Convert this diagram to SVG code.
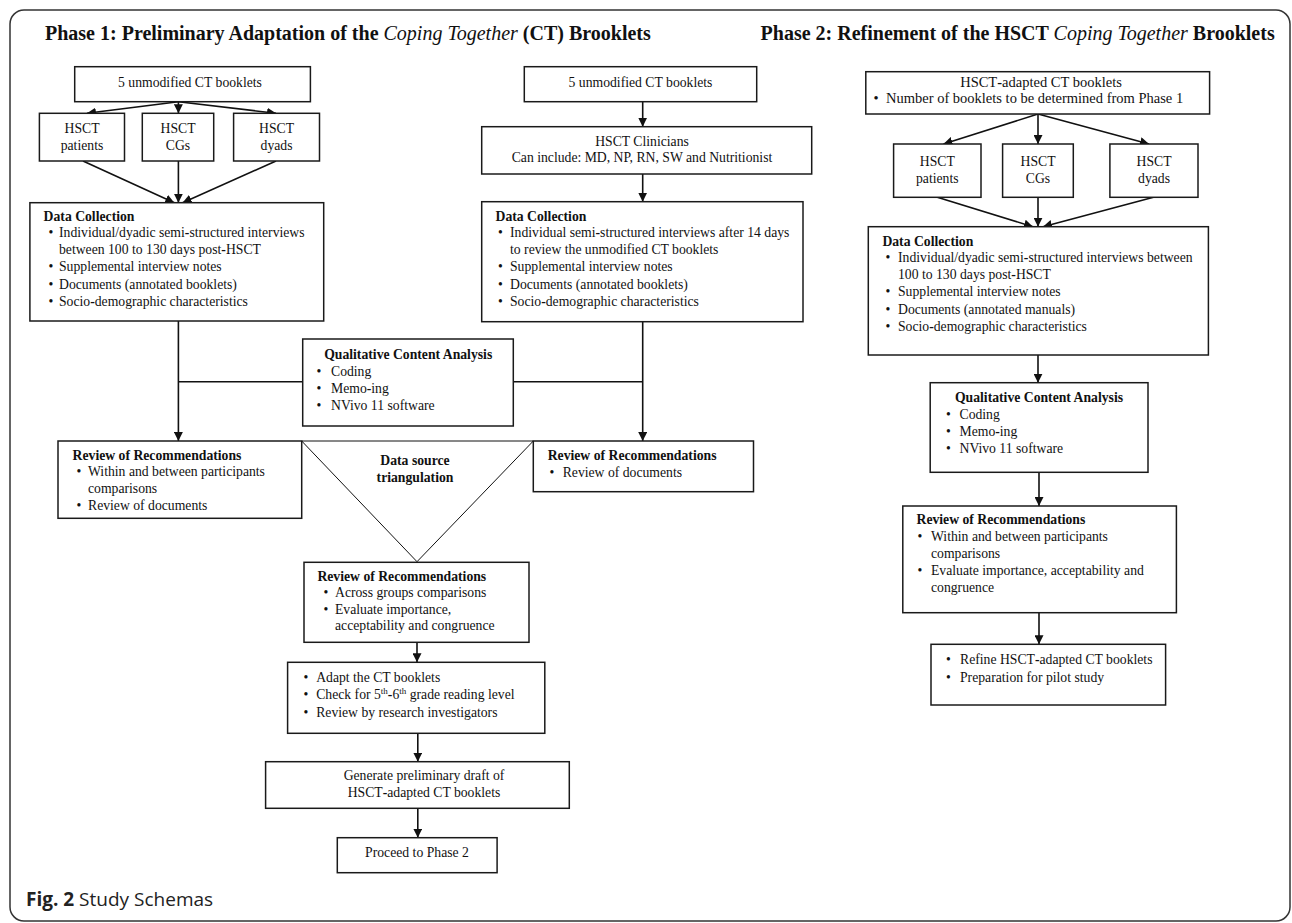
<svg xmlns="http://www.w3.org/2000/svg" width="1292" height="923" viewBox="0 0 1292 923">
<defs>
<style>
text{font-family:"Liberation Serif","Times New Roman",serif;font-size:13.7px;fill:#111}
.b{font-weight:bold}
.c{text-anchor:middle}
.i{font-style:italic;font-weight:normal}
.ttl{font-size:20px;font-weight:bold}
.cap{font-family:"Open Sans","Noto Sans",sans-serif;font-size:19px;fill:#222}
.box{fill:#fff;stroke:#1a1a1a;stroke-width:1.5}
.ln{fill:none;stroke:#111;stroke-width:1.6}
.tri{fill:none;stroke:#111;stroke-width:1}
</style>
<marker id="ah" viewBox="0 0 10 10" refX="10" refY="5" markerWidth="9" markerHeight="9" markerUnits="userSpaceOnUse" orient="auto">
<path d="M0,0 L10,5 L0,10 z" fill="#111"/>
</marker>
</defs>
<rect width="1292" height="923" fill="#fff"/>
<rect x="10" y="10" width="1280" height="911" rx="14" fill="none" stroke="#333" stroke-width="1.5"/>

<text x="45" y="40" class="ttl">Phase 1: Preliminary Adaptation of the <tspan class="i">Coping Together</tspan> (CT) Brooklets</text>
<text x="760.6" y="40" class="ttl">Phase 2: Refinement of the HSCT <tspan class="i">Coping Together</tspan> Brooklets</text>

<g id="connectors">
<line class="ln" x1="178.4" y1="101.7" x2="87" y2="113.3" marker-end="url(#ah)"/>
<line class="ln" x1="178.4" y1="101.7" x2="178.4" y2="113.3" marker-end="url(#ah)"/>
<line class="ln" x1="178.4" y1="101.7" x2="276" y2="113.3" marker-end="url(#ah)"/>
<line class="ln" x1="83" y1="161" x2="174.3" y2="202.7" marker-end="url(#ah)"/>
<line class="ln" x1="178.4" y1="161" x2="178.4" y2="202.7" marker-end="url(#ah)"/>
<line class="ln" x1="276" y1="161" x2="182.6" y2="202.7" marker-end="url(#ah)"/>
<line class="ln" x1="178.4" y1="321" x2="178.4" y2="441" marker-end="url(#ah)"/>
<line class="ln" x1="178.4" y1="381.7" x2="302.7" y2="381.7"/>
<line class="ln" x1="513.3" y1="381.7" x2="642.7" y2="381.7"/>
<line class="ln" x1="642.7" y1="101.7" x2="642.7" y2="126.7" marker-end="url(#ah)"/>
<line class="ln" x1="642.7" y1="174" x2="642.7" y2="201.7" marker-end="url(#ah)"/>
<line class="ln" x1="642.7" y1="321.7" x2="642.7" y2="441" marker-end="url(#ah)"/>
<line class="ln" x1="417" y1="642.3" x2="417" y2="662.3" marker-end="url(#ah)"/>
<line class="ln" x1="417.8" y1="733.3" x2="417.8" y2="761.7" marker-end="url(#ah)"/>
<line class="ln" x1="417.8" y1="808.3" x2="417.8" y2="837.7" marker-end="url(#ah)"/>
<line class="ln" x1="1038" y1="114" x2="943.5" y2="144" marker-end="url(#ah)"/>
<line class="ln" x1="1038" y1="114" x2="1038" y2="144" marker-end="url(#ah)"/>
<line class="ln" x1="1038" y1="114" x2="1149" y2="144" marker-end="url(#ah)"/>
<line class="ln" x1="937.3" y1="197.3" x2="1033" y2="226.7" marker-end="url(#ah)"/>
<line class="ln" x1="1038" y1="197.3" x2="1038" y2="226.7" marker-end="url(#ah)"/>
<line class="ln" x1="1153.5" y1="197.3" x2="1043" y2="226.7" marker-end="url(#ah)"/>
<line class="ln" x1="1038" y1="355" x2="1038" y2="382.7" marker-end="url(#ah)"/>
<line class="ln" x1="1039" y1="472.3" x2="1039" y2="506" marker-end="url(#ah)"/>
<line class="ln" x1="1039" y1="612.7" x2="1039" y2="644.3" marker-end="url(#ah)"/>
</g>

<g id="p1-top-left">
<rect class="box" x="74.7" y="66.7" width="235.7" height="35"/>
<text x="190" y="87" class="c">5 unmodified CT booklets</text>
</g>
<g id="p1-patients">
<rect class="box" x="39.4" y="113.3" width="85.1" height="47.7"/>
<text x="82" y="133.2" class="c">HSCT</text>
<text x="82" y="150.2" class="c">patients</text>
</g>
<g id="p1-cgs">
<rect class="box" x="142.3" y="113.3" width="71.4" height="47.7"/>
<text x="178" y="133.2" class="c">HSCT</text>
<text x="178" y="150.2" class="c">CGs</text>
</g>
<g id="p1-dyads">
<rect class="box" x="233.6" y="113.3" width="85.9" height="47.7"/>
<text x="276.5" y="133.2" class="c">HSCT</text>
<text x="276.5" y="150.2" class="c">dyads</text>
</g>
<g id="p1-dc-left">
<rect class="box" x="29.9" y="202.7" width="293.8" height="118.3"/>
<text x="43.6" y="220.5" class="b">Data Collection</text>
<text x="51" y="237" class="c">•</text><text x="59" y="237">Individual/dyadic semi<tspan class="b">-</tspan>structured interviews</text>
<text x="59" y="254">between 100 to 130 days post<tspan class="b">-</tspan>HSCT</text>
<text x="51" y="271.3" class="c">•</text><text x="59" y="271.3">Supplemental interview notes</text>
<text x="51" y="288.5" class="c">•</text><text x="59" y="288.5">Documents (annotated booklets)</text>
<text x="51" y="305.8" class="c">•</text><text x="59" y="305.8">Socio<tspan class="b">-</tspan>demographic characteristics</text>
</g>

<g id="p1-top-right">
<rect class="box" x="524.3" y="66.7" width="232.4" height="35"/>
<text x="640.5" y="87" class="c">5 unmodified CT booklets</text>
</g>
<g id="p1-clinicians">
<rect class="box" x="481.7" y="126.7" width="330" height="47.3"/>
<text x="642" y="145.5" class="c">HSCT Clinicians</text>
<text x="642" y="162" class="c">Can include: MD, NP, RN, SW and Nutritionist</text>
</g>
<g id="p1-dc-right">
<rect class="box" x="481.7" y="201.7" width="321.3" height="120"/>
<text x="495.5" y="220.5" class="b">Data Collection</text>
<text x="500.5" y="237" class="c">•</text><text x="510" y="237">Individual semi<tspan class="b">-</tspan>structured interviews after 14 days</text>
<text x="510" y="254">to review the unmodified CT booklets</text>
<text x="500.5" y="271.3" class="c">•</text><text x="510" y="271.3">Supplemental interview notes</text>
<text x="500.5" y="288.5" class="c">•</text><text x="510" y="288.5">Documents (annotated booklets)</text>
<text x="500.5" y="305.8" class="c">•</text><text x="510" y="305.8">Socio<tspan class="b">-</tspan>demographic characteristics</text>
</g>
<g id="p1-qca">
<rect class="box" x="302.7" y="339" width="210.6" height="87"/>
<text x="408.2" y="358.5" class="b c">Qualitative Content Analysis</text>
<text x="319" y="375.5" class="c">•</text><text x="331" y="375.5">Coding</text>
<text x="319" y="392.5" class="c">•</text><text x="331" y="392.5">Memo<tspan class="b">-</tspan>ing</text>
<text x="319" y="409.5" class="c">•</text><text x="331" y="409.5">NVivo 11 software</text>
</g>
<g id="p1-review-left">
<rect class="box" x="58" y="441" width="243.7" height="77.3"/>
<text x="72.6" y="459.5" class="b">Review of Recommendations</text>
<text x="79" y="476" class="c">•</text><text x="88" y="476">Within and between participants</text>
<text x="88" y="493">comparisons</text>
<text x="79" y="510" class="c">•</text><text x="88" y="510">Review of documents</text>
</g>
<g id="p1-triangulation">
<polygon class="tri" points="301.7,441 533.3,441 417,561.7"/>
<text x="415" y="465" class="b c">Data source</text>
<text x="415" y="481.7" class="b c">triangulation</text>
</g>
<g id="p1-review-right">
<rect class="box" x="533.3" y="441" width="220.2" height="50.7"/>
<text x="547.7" y="459.5" class="b">Review of Recommendations</text>
<text x="552" y="476.5" class="c">•</text><text x="562.7" y="476.5">Review of documents</text>
</g>
<g id="p1-review-center">
<rect class="box" x="304" y="562.3" width="225" height="80"/>
<text x="317.4" y="580.5" class="b">Review of Recommendations</text>
<text x="326" y="597" class="c">•</text><text x="335" y="597">Across groups comparisons</text>
<text x="326" y="613.5" class="c">•</text><text x="335" y="613.5">Evaluate importance,</text>
<text x="335" y="630">acceptability and congruence</text>
</g>
<g id="p1-adapt">
<rect class="box" x="287.6" y="662.3" width="257.2" height="71"/>
<text x="306" y="681.7" class="c">•</text><text x="316.2" y="681.7">Adapt the CT booklets</text>
<text x="306" y="699.3" class="c">•</text><text x="316.2" y="699.3">Check for 5<tspan font-size="9" dy="-5">th</tspan><tspan class="b" dy="5">-</tspan>6<tspan font-size="9" dy="-5">th</tspan><tspan dy="5"> grade reading level</tspan></text>
<text x="306" y="716.7" class="c">•</text><text x="316.2" y="716.7">Review by research investigators</text>
</g>
<g id="p1-generate">
<rect class="box" x="265.6" y="761.7" width="303.7" height="46.6"/>
<text x="424" y="780" class="c">Generate preliminary draft of</text>
<text x="424" y="796.7" class="c">HSCT<tspan class="b">-</tspan>adapted CT booklets</text>
</g>
<g id="p1-proceed">
<rect class="box" x="337.3" y="837.7" width="159.8" height="35"/>
<text x="417" y="856.7" class="c">Proceed to Phase 2</text>
</g>

<g id="p2-top">
<rect class="box" x="865.8" y="71.7" width="343.8" height="42.3"/>
<text x="1041" y="87" class="c" style="font-size:14.5px">HSCT<tspan class="b">-</tspan>adapted CT booklets</text>
<text x="876" y="103" class="c" style="font-size:14.5px">•</text><text x="886" y="103" style="font-size:14.5px">Number of booklets to be determined from Phase 1</text>
</g>
<g id="p2-patients">
<rect class="box" x="893.6" y="144" width="87.4" height="53.3"/>
<text x="937.3" y="165.5" class="c">HSCT</text>
<text x="937.3" y="182.5" class="c">patients</text>
</g>
<g id="p2-cgs">
<rect class="box" x="1002.6" y="144" width="70.7" height="53.3"/>
<text x="1038" y="165.5" class="c">HSCT</text>
<text x="1038" y="182.5" class="c">CGs</text>
</g>
<g id="p2-dyads">
<rect class="box" x="1109.9" y="144" width="88.1" height="53.3"/>
<text x="1154" y="165.5" class="c">HSCT</text>
<text x="1154" y="182.5" class="c">dyads</text>
</g>
<g id="p2-dc">
<rect class="box" x="868.3" y="226.7" width="340.1" height="128.3"/>
<text x="882.4" y="245.5" class="b">Data Collection</text>
<text x="888" y="262" class="c">•</text><text x="898" y="262">Individual/dyadic semi<tspan class="b">-</tspan>structured interviews between</text>
<text x="898" y="279">100 to 130 days post<tspan class="b">-</tspan>HSCT</text>
<text x="888" y="296.3" class="c">•</text><text x="898" y="296.3">Supplemental interview notes</text>
<text x="888" y="313.5" class="c">•</text><text x="898" y="313.5">Documents (annotated manuals)</text>
<text x="888" y="330.8" class="c">•</text><text x="898" y="330.8">Socio<tspan class="b">-</tspan>demographic characteristics</text>
</g>
<g id="p2-qca">
<rect class="box" x="930.2" y="382.7" width="217.8" height="89.6"/>
<text x="1039" y="401.5" class="b c">Qualitative Content Analysis</text>
<text x="948.5" y="418.5" class="c">•</text><text x="959.5" y="418.5">Coding</text>
<text x="948.5" y="435.8" class="c">•</text><text x="959.5" y="435.8">Memo<tspan class="b">-</tspan>ing</text>
<text x="948.5" y="453" class="c">•</text><text x="959.5" y="453">NVivo 11 software</text>
</g>
<g id="p2-review">
<rect class="box" x="902.8" y="506" width="273.6" height="106.7"/>
<text x="916.5" y="524.3" class="b">Review of Recommendations</text>
<text x="920" y="541" class="c">•</text><text x="931" y="541">Within and between participants</text>
<text x="931" y="557.7">comparisons</text>
<text x="920" y="575" class="c">•</text><text x="931" y="575">Evaluate importance, acceptability and</text>
<text x="931" y="591.7">congruence</text>
</g>
<g id="p2-final">
<rect class="box" x="931" y="644.3" width="234.6" height="60.7"/>
<text x="948.5" y="664.3" class="c">•</text><text x="960" y="664.3">Refine HSCT<tspan class="b">-</tspan>adapted CT booklets</text>
<text x="948.5" y="681.7" class="c">•</text><text x="960" y="681.7">Preparation for pilot study</text>
</g>

<text x="26" y="905.5" class="cap"><tspan font-weight="bold">Fig. 2</tspan> Study Schemas</text>
</svg>
